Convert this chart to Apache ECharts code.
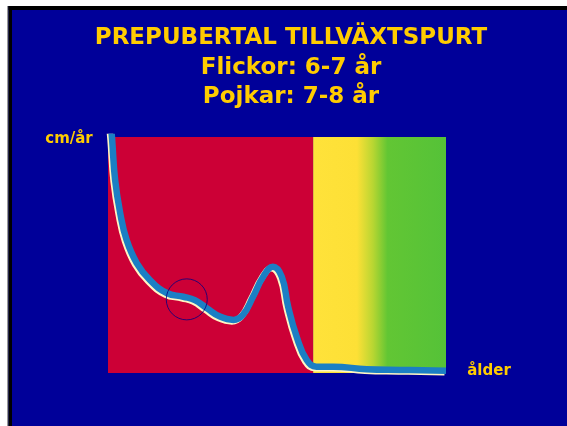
<!DOCTYPE html>
<html>
<head>
<meta charset="utf-8">
<script src="https://cdn.jsdelivr.net/npm/echarts@6/dist/echarts.min.js"></script>
<style>
html,body{margin:0;padding:0;background:#ffffff;}
#chart{width:567px;height:426px;}
</style>
</head>
<body>
<div id="chart"></div>
<script>
// Title lines
var titleLines = ['PREPUBERTAL TILLVÄXTSPURT', 'Flickor: 6-7 år', 'Pojkar: 7-8 år'];
var yAxisLabel = 'cm/år';
var xAxisLabel = 'ålder';

// Growth velocity curve (x = relative age 0-100, y = relative cm/år 0-100)
var curveX = [0.9, 1.2, 2.1, 3.6, 5.5, 8.5, 12.4, 17.4, 22.3, 25.7, 29.2, 33.1, 37.1, 39.9, 42.9, 45.9, 48.8, 51.4, 53.3, 55.8, 58.8, 61.7, 66.6, 76.5, 86.4, 100];
var curveY = [104, 99.4, 81.8, 67.8, 56.4, 46.6, 39.4, 33.9, 32.3, 30.9, 27.5, 23.9, 22.5, 24.6, 32.3, 40.8, 45.0, 40.8, 28.1, 15.4, 5.5, 2.7, 2.7, 1.6, 1.3, 1.0];

// Highlight circle (prepubertal spurt)
var circleX = [23.3];
var circleY = [31.2];

// Background phase boundaries (x)
var phaseRedEnd = 60.7;
var phaseEnd = 100;

var curveData = curveX.map(function (x, i) { return [x, curveY[i]]; });
var circleData = circleX.map(function (x, i) { return [x, circleY[i]]; });

var chart = echarts.init(document.getElementById('chart'), null, {renderer: 'canvas'});
var txtShadow = {textShadowColor: '#000000', textShadowOffsetX: 1.5, textShadowOffsetY: 1.5, textShadowBlur: 0};
var titleFont = 'bold 23px "DejaVu Sans"';

chart.setOption({
  backgroundColor: '#000099',
  animation: false,
  graphic: [
    {type: 'rect', shape: {x: 0, y: 0, width: 8, height: 426}, style: {fill: '#ffffff'}},
    {type: 'rect', shape: {x: 0, y: 0, width: 567, height: 6}, style: {fill: '#ffffff'}},
    {type: 'rect', shape: {x: 7, y: 6, width: 1.5, height: 420}, style: {fill: '#9a9a9a'}},
    {type: 'rect', shape: {x: 8.5, y: 6, width: 3.5, height: 420}, style: {fill: '#000000'}},
    {type: 'rect', shape: {x: 8.5, y: 6, width: 558.5, height: 4}, style: {fill: '#000000'}},
    {type: 'text', x: 291, y: 38, style: Object.assign({text: titleLines[0], font: titleFont, fill: '#ffcc00', align: 'center', verticalAlign: 'middle'}, txtShadow)},
    {type: 'text', x: 291, y: 68, style: Object.assign({text: titleLines[1], font: titleFont, fill: '#ffcc00', align: 'center', verticalAlign: 'middle'}, txtShadow)},
    {type: 'text', x: 291, y: 97, style: Object.assign({text: titleLines[2], font: titleFont, fill: '#ffcc00', align: 'center', verticalAlign: 'middle'}, txtShadow)},
    {type: 'text', x: 69, y: 139, style: Object.assign({text: yAxisLabel, font: 'bold 15px "DejaVu Sans"', fill: '#ffcc00', align: 'center', verticalAlign: 'middle'}, {textShadowColor: '#000000', textShadowOffsetX: 1, textShadowOffsetY: 1})},
    {type: 'text', x: 489, y: 371, style: Object.assign({text: xAxisLabel, font: 'bold 15px "DejaVu Sans"', fill: '#ffcc00', align: 'center', verticalAlign: 'middle'}, {textShadowColor: '#000000', textShadowOffsetX: 1, textShadowOffsetY: 1})}
  ],
  grid: {left: 108, top: 137, width: 338, height: 236, containLabel: false},
  xAxis: {type: 'value', min: 0, max: 100, show: false},
  yAxis: {type: 'value', min: 0, max: 100, show: false},
  series: [
    {
      type: 'line', data: [], z: 1, silent: true,
      markArea: {
        silent: true,
        data: [
          [{xAxis: 0, itemStyle: {color: '#cc0036'}}, {xAxis: phaseRedEnd}],
          [{xAxis: phaseRedEnd, itemStyle: {color: new echarts.graphic.LinearGradient(0, 0, 1, 0, [
            {offset: 0, color: '#ffe23a'},
            {offset: 0.33, color: '#fde036'},
            {offset: 0.45, color: '#b8d632'},
            {offset: 0.56, color: '#62c634'},
            {offset: 1, color: '#55c238'}
          ])}}, {xAxis: phaseEnd}]
        ]
      }
    },
    {
      type: 'line', data: curveData, z: 3, smooth: 0.45, symbol: 'none', clip: true,
      lineStyle: {color: '#1b7fc4', width: 6.5, cap: 'butt', shadowColor: '#fff6c4', shadowBlur: 0, shadowOffsetX: -1.5, shadowOffsetY: 1.5}
    },
    {
      type: 'scatter', data: circleData, z: 4, symbol: 'circle', symbolSize: 41,
      itemStyle: {color: 'rgba(0,0,0,0)', borderColor: '#000080', borderWidth: 1}
    }
  ]
});
</script>
</body>
</html>
